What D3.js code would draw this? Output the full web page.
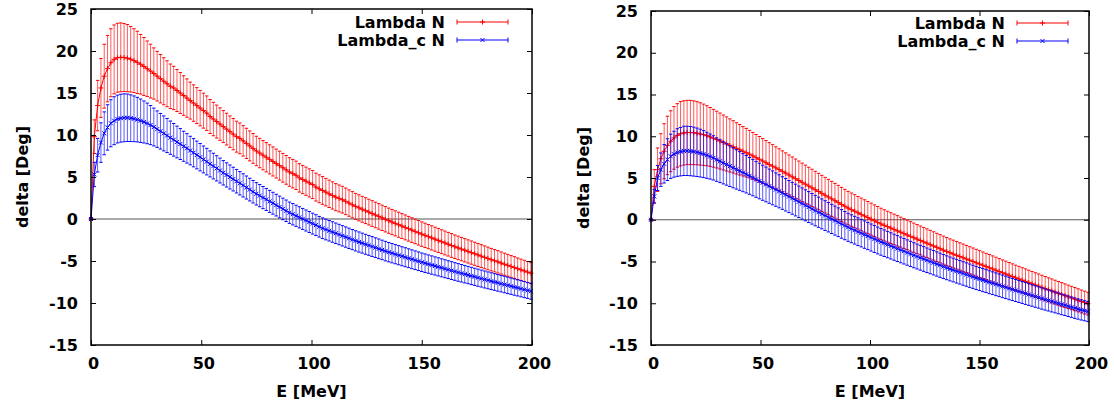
<!DOCTYPE html>
<html>
<head>
<meta charset="utf-8">
<script src="https://cdn.jsdelivr.net/npm/d3@7"></script>
<style>
body{margin:0;background:#fff;}
svg text{font-family:"DejaVu Sans",sans-serif;font-weight:bold;fill:#000;}
</style>
</head>
<body>
<svg id="chart" width="1114" height="409"></svg>
<script>
// energy grid [MeV]
var energy = [
  0,1.5,3,4.5,6,7.5,9,10.5,12,13.5,
  15,16.5,18,19.5,21,22.5,24,25.5,27,28.5,
  30,31.5,33,34.5,36,37.5,39,40.5,42,43.5,
  45,46.5,48,49.5,51,52.5,54,55.5,57,58.5,
  60,61.5,63,64.5,66,67.5,69,70.5,72,73.5,
  75,76.5,78,79.5,81,82.5,84,85.5,87,88.5,
  90,91.5,93,94.5,96,97.5,99,100.5,102,103.5,
  105,106.5,108,109.5,111,112.5,114,115.5,117,118.5,
  120,121.5,123,124.5,126,127.5,129,130.5,132,133.5,
  135,136.5,138,139.5,141,142.5,144,145.5,147,148.5,
  150,151.5,153,154.5,156,157.5,159,160.5,162,163.5,
  165,166.5,168,169.5,171,172.5,174,175.5,177,178.5,
  180,181.5,183,184.5,186,187.5,189,190.5,192,193.5,
  195,196.5,198,199.5];

// left panel
var leftLambdaN = [
  0,9.8,13.5,15.6,17.0,17.9,18.6,19.0,19.2,19.25,
  19.22,19.15,19.02,18.85,18.65,18.42,18.16,17.89,17.61,17.32,
  17.0,16.7,16.4,16.1,15.8,15.6,15.3,15.0,14.7,14.4,
  14.1,13.8,13.5,13.2,12.9,12.6,12.2,11.9,11.6,11.3,
  11.0,10.7,10.4,10.1,9.8,9.6,9.3,9.0,8.7,8.4,
  8.1,7.85,7.6,7.35,7.1,6.85,6.6,6.35,6.1,5.85,
  5.6,5.4,5.2,4.9,4.7,4.5,4.3,4.1,3.8,3.6,
  3.4,3.2,3.0,2.8,2.6,2.45,2.3,2.1,1.9,1.7,
  1.5,1.33,1.16,0.99,0.82,0.65,0.48,0.31,0.14,-0.03,
  -0.2,-0.36,-0.52,-0.68,-0.84,-1.0,-1.16,-1.32,-1.48,-1.64,
  -1.8,-1.95,-2.1,-2.25,-2.4,-2.55,-2.7,-2.85,-3.0,-3.15,
  -3.3,-3.44,-3.58,-3.72,-3.86,-4.0,-4.14,-4.28,-4.42,-4.56,
  -4.7,-4.84,-4.97,-5.1,-5.24,-5.38,-5.51,-5.65,-5.78,-5.92,
  -6.05,-6.18,-6.32,-6.45];
var leftLambdaNErr = [
  0,2.0,3.0,3.5,3.8,3.95,4.05,4.1,4.1,4.1,
  4.05,4.0,3.9,3.8,3.7,3.55,3.45,3.3,3.2,3.05,
  2.95,2.88,2.8,2.73,2.65,2.58,2.5,2.43,2.35,2.28,
  2.2,2.17,2.14,2.11,2.08,2.05,2.02,1.99,1.96,1.93,
  1.9,1.89,1.87,1.86,1.84,1.83,1.81,1.8,1.78,1.77,
  1.75,1.75,1.74,1.74,1.73,1.73,1.72,1.72,1.71,1.71,
  1.7,1.7,1.69,1.69,1.68,1.68,1.67,1.67,1.66,1.66,
  1.65,1.64,1.63,1.62,1.61,1.6,1.59,1.58,1.57,1.56,
  1.55,1.55,1.54,1.54,1.53,1.53,1.52,1.52,1.51,1.51,
  1.5,1.5,1.49,1.49,1.48,1.48,1.47,1.47,1.46,1.46,
  1.45,1.45,1.44,1.44,1.43,1.43,1.42,1.42,1.41,1.41,
  1.4,1.4,1.39,1.39,1.38,1.38,1.37,1.37,1.36,1.36,
  1.35,1.34,1.33,1.33,1.32,1.31,1.3,1.29,1.29,1.28,
  1.27,1.26,1.26,1.25];
var leftLambdaCN = [
  0,5.3,7.6,9.1,10.2,10.9,11.4,11.7,11.9,12.0,
  12.05,12.05,12.0,11.93,11.83,11.7,11.55,11.38,11.18,10.95,
  10.7,10.45,10.19,9.94,9.68,9.43,9.17,8.92,8.66,8.41,
  8.15,7.89,7.62,7.36,7.09,6.83,6.56,6.3,6.03,5.77,
  5.5,5.25,5.0,4.75,4.5,4.25,4.0,3.75,3.5,3.25,
  3.0,2.78,2.55,2.33,2.1,1.88,1.65,1.43,1.2,0.98,
  0.75,0.57,0.38,0.2,0.01,-0.18,-0.36,-0.55,-0.73,-0.92,
  -1.1,-1.25,-1.4,-1.55,-1.7,-1.85,-2.0,-2.15,-2.3,-2.45,
  -2.6,-2.74,-2.87,-3.01,-3.14,-3.28,-3.41,-3.55,-3.68,-3.82,
  -3.95,-4.07,-4.19,-4.31,-4.43,-4.55,-4.67,-4.79,-4.91,-5.03,
  -5.15,-5.26,-5.37,-5.48,-5.59,-5.7,-5.81,-5.92,-6.03,-6.14,
  -6.25,-6.36,-6.46,-6.57,-6.67,-6.78,-6.88,-6.99,-7.09,-7.2,
  -7.3,-7.4,-7.5,-7.6,-7.7,-7.8,-7.9,-8.0,-8.1,-8.2,
  -8.3,-8.4,-8.5,-8.6];
var leftLambdaCNErr = [
  0,1.45,2.0,2.35,2.55,2.7,2.8,2.85,2.85,2.85,
  2.85,2.82,2.78,2.72,2.65,2.58,2.5,2.42,2.33,2.25,
  2.17,2.12,2.08,2.03,1.98,1.94,1.89,1.84,1.79,1.75,
  1.7,1.68,1.65,1.63,1.6,1.58,1.55,1.53,1.5,1.48,
  1.45,1.44,1.43,1.41,1.4,1.39,1.38,1.37,1.35,1.34,
  1.33,1.32,1.32,1.31,1.31,1.3,1.29,1.29,1.28,1.28,
  1.27,1.27,1.26,1.26,1.25,1.25,1.25,1.24,1.24,1.23,
  1.23,1.23,1.22,1.22,1.22,1.22,1.21,1.21,1.21,1.2,
  1.2,1.2,1.19,1.19,1.18,1.18,1.17,1.17,1.16,1.16,
  1.15,1.15,1.14,1.14,1.13,1.13,1.12,1.12,1.11,1.11,
  1.1,1.1,1.09,1.09,1.08,1.08,1.07,1.07,1.06,1.06,
  1.05,1.05,1.04,1.04,1.03,1.03,1.02,1.02,1.01,1.01,
  1.0,1.0,0.99,0.99,0.98,0.98,0.98,0.97,0.97,0.96,
  0.96,0.96,0.95,0.95];

// right panel
var rightLambdaN = [
  0,4.0,6.0,7.3,8.2,8.9,9.4,9.8,10.1,10.3,
  10.4,10.45,10.45,10.42,10.36,10.28,10.18,10.06,9.92,9.76,
  9.6,9.43,9.25,9.08,8.9,8.73,8.55,8.38,8.2,8.03,
  7.85,7.65,7.44,7.24,7.03,6.83,6.62,6.42,6.21,6.01,
  5.8,5.58,5.36,5.14,4.92,4.7,4.48,4.26,4.04,3.82,
  3.6,3.38,3.16,2.94,2.72,2.5,2.28,2.06,1.84,1.62,
  1.4,1.21,1.02,0.83,0.64,0.45,0.26,0.07,-0.12,-0.31,
  -0.5,-0.67,-0.83,-1.0,-1.16,-1.33,-1.49,-1.66,-1.82,-1.99,
  -2.15,-2.32,-2.48,-2.65,-2.81,-2.98,-3.14,-3.31,-3.47,-3.64,
  -3.8,-3.95,-4.1,-4.25,-4.4,-4.55,-4.7,-4.85,-5.0,-5.15,
  -5.3,-5.45,-5.6,-5.75,-5.9,-6.05,-6.2,-6.35,-6.5,-6.65,
  -6.8,-6.95,-7.09,-7.24,-7.38,-7.53,-7.67,-7.82,-7.96,-8.11,
  -8.25,-8.39,-8.53,-8.67,-8.81,-8.95,-9.09,-9.23,-9.37,-9.51,
  -9.65,-9.79,-9.92,-10.05];
var rightLambdaNErr = [
  0,2.0,2.6,3.0,3.3,3.5,3.65,3.75,3.8,3.85,
  3.85,3.85,3.85,3.82,3.78,3.73,3.67,3.6,3.53,3.46,
  3.4,3.35,3.29,3.24,3.18,3.13,3.07,3.02,2.96,2.91,
  2.85,2.81,2.77,2.73,2.69,2.65,2.61,2.57,2.53,2.49,
  2.45,2.43,2.4,2.38,2.35,2.33,2.3,2.28,2.25,2.23,
  2.2,2.18,2.16,2.14,2.12,2.1,2.08,2.06,2.04,2.02,
  2.0,1.99,1.98,1.96,1.95,1.94,1.93,1.92,1.9,1.89,
  1.88,1.87,1.85,1.84,1.83,1.82,1.8,1.79,1.78,1.76,
  1.75,1.74,1.73,1.73,1.72,1.71,1.7,1.69,1.69,1.68,
  1.67,1.66,1.66,1.65,1.64,1.64,1.63,1.62,1.62,1.61,
  1.6,1.59,1.58,1.58,1.57,1.56,1.55,1.54,1.54,1.53,
  1.52,1.51,1.51,1.5,1.49,1.49,1.48,1.47,1.47,1.46,
  1.45,1.44,1.44,1.43,1.42,1.42,1.41,1.4,1.4,1.39,
  1.38,1.37,1.37,1.36];
var rightLambdaCN = [
  0,2.8,5.0,6.0,6.7,7.2,7.6,7.85,8.05,8.15,
  8.25,8.25,8.22,8.16,8.08,7.98,7.86,7.72,7.57,7.41,
  7.2,7.01,6.81,6.62,6.42,6.23,6.03,5.84,5.64,5.45,
  5.25,5.05,4.84,4.64,4.43,4.23,4.02,3.82,3.61,3.41,
  3.2,2.99,2.78,2.57,2.36,2.15,1.94,1.73,1.52,1.31,
  1.1,0.9,0.7,0.5,0.3,0.1,-0.1,-0.3,-0.5,-0.7,
  -0.9,-1.08,-1.25,-1.43,-1.6,-1.78,-1.95,-2.13,-2.3,-2.48,
  -2.65,-2.81,-2.97,-3.13,-3.29,-3.45,-3.61,-3.77,-3.93,-4.09,
  -4.25,-4.4,-4.55,-4.7,-4.85,-5.0,-5.15,-5.3,-5.45,-5.6,
  -5.75,-5.89,-6.02,-6.16,-6.29,-6.43,-6.56,-6.7,-6.83,-6.97,
  -7.1,-7.23,-7.35,-7.48,-7.6,-7.73,-7.85,-7.98,-8.1,-8.23,
  -8.35,-8.47,-8.59,-8.71,-8.83,-8.95,-9.07,-9.19,-9.31,-9.43,
  -9.55,-9.67,-9.78,-9.9,-10.01,-10.13,-10.24,-10.36,-10.47,-10.59,
  -10.7,-10.8,-10.9,-11.0];
var rightLambdaCNErr = [
  0,0.8,1.5,2.0,2.3,2.5,2.65,2.75,2.85,2.9,
  2.95,2.95,2.95,2.93,2.9,2.86,2.81,2.76,2.7,2.65,
  2.6,2.56,2.52,2.48,2.44,2.4,2.36,2.32,2.28,2.24,
  2.2,2.18,2.15,2.13,2.1,2.08,2.05,2.03,2.0,1.98,
  1.95,1.94,1.92,1.91,1.9,1.89,1.87,1.86,1.85,1.83,
  1.82,1.81,1.79,1.78,1.76,1.75,1.74,1.72,1.71,1.69,
  1.68,1.67,1.66,1.66,1.65,1.64,1.63,1.62,1.62,1.61,
  1.6,1.59,1.58,1.57,1.56,1.55,1.54,1.53,1.52,1.51,
  1.5,1.49,1.49,1.48,1.47,1.47,1.46,1.45,1.45,1.44,
  1.43,1.43,1.42,1.42,1.41,1.41,1.4,1.4,1.39,1.39,
  1.38,1.38,1.37,1.37,1.36,1.36,1.35,1.35,1.34,1.34,
  1.33,1.32,1.32,1.31,1.31,1.3,1.29,1.29,1.28,1.28,
  1.27,1.26,1.26,1.25,1.25,1.24,1.23,1.23,1.22,1.22,
  1.21,1.21,1.2,1.2];

var seriesNames = ["Lambda N", "Lambda_c N"];
var yTicks = [-15,-10,-5,0,5,10,15,20,25];
var xTicks = [0,50,100,150,200];
var xTitle = "E [MeV]", yTitle = "delta [Deg]";

var svg = d3.select('#chart');

var panels = [
  {l:91, r:532, t:9, b:345, ytx:22, legX:445, legY:22,
   series:[{name:seriesNames[0], v:leftLambdaN, e:leftLambdaNErr, color:'#ff0000', mark:'plus'},
           {name:seriesNames[1], v:leftLambdaCN, e:leftLambdaCNErr, color:'#0000ff', mark:'cross'}]},
  {l:651, r:1089, t:11, b:345, ytx:583, legX:1005, legY:23,
   series:[{name:seriesNames[0], v:rightLambdaN, e:rightLambdaNErr, color:'#ff0000', mark:'plus'},
           {name:seriesNames[1], v:rightLambdaCN, e:rightLambdaCNErr, color:'#0000ff', mark:'cross'}]}
];

panels.forEach(drawPanel);

function markPath(type, cx, cy, s) {
  if (type == 'plus')
    return 'M'+(cx-s)+','+cy+'H'+(cx+s)+'M'+cx+','+(cy-s)+'V'+(cy+s);
  return 'M'+(cx-s)+','+(cy-s)+'L'+(cx+s)+','+(cy+s)+'M'+(cx-s)+','+(cy+s)+'L'+(cx+s)+','+(cy-s);
}

function drawSeries(g, x, y, s) {
  var rows = energy.map(function(en, i){ return {e:en, v:s.v[i], err:s.e[i]}; })
    .filter(function(d){ return d.v != null && d.err != null; });
  var sg = g.append('g').attr('class','series');

  sg.selectAll('.bar').data(rows).enter().append('line')
    .attr('class','bar')
    .attr('x1', function(d){ return x(d.e); })
    .attr('x2', function(d){ return x(d.e); })
    .attr('y1', function(d){ return y(d.v - d.err); })
    .attr('y2', function(d){ return y(d.v + d.err); })
    .attr('stroke', s.color).attr('stroke-opacity', 0.65).attr('stroke-width', 1);

  [-1, 1].forEach(function(sign){
    sg.selectAll('.cap' + sign).data(rows).enter().append('line')
      .attr('x1', function(d){ return x(d.e) - 1.7; })
      .attr('x2', function(d){ return x(d.e) + 1.7; })
      .attr('y1', function(d){ return y(d.v + sign * d.err); })
      .attr('y2', function(d){ return y(d.v + sign * d.err); })
      .attr('stroke', s.color).attr('stroke-width', 1);
  });

  var line = d3.line().x(function(d){ return x(d.e); }).y(function(d){ return y(d.v); });
  sg.append('path').datum(rows).attr('d', line)
    .attr('fill','none').attr('stroke', s.color).attr('stroke-width', 1);

  sg.selectAll('.mk').data(rows).enter().append('path')
    .attr('d', function(d){ return markPath(s.mark, x(d.e), y(d.v), s.mark == 'plus' ? 2.5 : 2); })
    .attr('fill','none').attr('stroke', s.color).attr('stroke-width', 1);
}

function drawPanel(p) {
  var x = d3.scaleLinear().domain([0,200]).range([p.l, p.r]);
  var y = d3.scaleLinear().domain([-15,25]).range([p.b, p.t]);
  var g = svg.append('g');

  // zero axis
  g.append('line').attr('x1', x(0)).attr('x2', x(200)).attr('y1', y(0)).attr('y2', y(0))
    .attr('stroke','#555').attr('stroke-width',1);

  p.series.forEach(function(s){ drawSeries(g, x, y, s); });

  var fmt = function(d){ return String(d); };
  var ax = [
    g.append('g').attr('transform','translate('+p.l+',0)')
      .call(d3.axisLeft(y).tickValues(yTicks).tickSize(-5).tickPadding(13).tickFormat(fmt)),
    g.append('g').attr('transform','translate('+p.r+',0)')
      .call(d3.axisRight(y).tickValues(yTicks).tickSize(-5).tickFormat('')),
    g.append('g').attr('transform','translate(0,'+p.b+')')
      .call(d3.axisBottom(x).tickValues(xTicks).tickSize(-5).tickPadding(13).tickFormat(fmt)),
    g.append('g').attr('transform','translate(0,'+p.t+')')
      .call(d3.axisTop(x).tickValues(xTicks).tickSize(-5).tickFormat(''))
  ];
  ax.forEach(function(a){
    a.select('.domain').remove();
    a.selectAll('line').attr('stroke','#000').attr('stroke-width',1);
    a.selectAll('text').style('font-size','16px');
  });
  ax[2].selectAll('text').attr('x', 2);

  g.append('rect').attr('x', p.l).attr('y', p.t).attr('width', p.r - p.l).attr('height', p.b - p.t)
    .attr('fill','none').attr('stroke','#000').attr('stroke-width',1.5);

  g.append('text').attr('transform','translate('+p.ytx+','+((p.t+p.b)/2)+') rotate(-90)')
    .attr('text-anchor','middle').attr('dominant-baseline','central')
    .style('font-size','16px').text(yTitle);
  g.append('text').attr('x', (p.l+p.r)/2).attr('y', 391)
    .attr('text-anchor','middle').attr('dominant-baseline','central')
    .style('font-size','16px').text(xTitle);

  // legend
  p.series.forEach(function(s, i){
    var ly = p.legY + i*18, x0 = p.legX + 12, x1 = p.legX + 63;
    g.append('text').attr('x', p.legX).attr('y', ly)
      .attr('text-anchor','end').attr('dominant-baseline','central')
      .style('font-size','16px').text(s.name);
    g.append('path')
      .attr('d', 'M'+x0+','+ly+'H'+x1+'M'+x0+','+(ly-2.5)+'V'+(ly+2.5)+'M'+x1+','+(ly-2.5)+'V'+(ly+2.5))
      .attr('fill','none').attr('stroke', s.color).attr('stroke-width',1);
    g.append('path').attr('d', markPath(s.mark, (x0+x1)/2, ly, s.mark == 'plus' ? 2.5 : 2))
      .attr('fill','none').attr('stroke', s.color).attr('stroke-width',1);
  });
}
</script>
</body>
</html>
